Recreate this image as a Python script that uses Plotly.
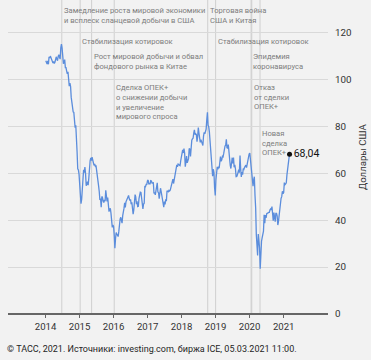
import plotly.graph_objects as go
import pandas as pd

# Brent weekly closes (USD/barrel), Fridays
brent_2014 = [107.9, 107.3, 106.5, 107.9, 106.4,
              109.6, 109.1, 109.9, 109.1,
              108.9, 108.2, 106.9, 107.6,
              106.7, 107.3, 109.5, 109.6,
              108.6, 107.9, 109.8, 110.5, 109.4,
              108.6, 113.4, 115.0, 113.3,
              110.6, 106.7, 107.2, 108.4,
              105.0, 105.0, 103.5, 102.3, 103.2,
              100.8, 97.1, 98.4, 97.0,
              92.3, 90.2, 86.2, 86.1, 85.9,
              83.4, 79.4, 80.4, 70.2,
              69.1, 61.9, 61.4, 59.5]
brent_2015 = [56.4, 50.1, 47.0, 48.8, 52.99,
              57.8, 61.5, 60.2, 62.6,
              59.7, 54.7, 55.3, 56.4,
              54.9, 57.9, 63.5, 65.3,
              66.5, 65.4, 66.8, 65.4, 65.6,
              63.3, 63.9, 63.0, 63.3,
              60.3, 58.7, 57.1, 54.6, 52.2,
              48.6, 49.2, 45.5, 50.1,
              49.6, 48.1, 47.5, 48.6,
              48.1, 52.7, 50.5, 48.0, 49.6,
              47.4, 43.6, 44.7, 45.0,
              43.0, 37.9, 36.9, 37.9]
brent_2016 = [37.3, 33.6, 28.0, 32.2, 34.7,
              34.1, 33.4, 33.0, 35.1,
              38.7, 40.4, 41.2, 40.4,
              38.7, 41.9, 43.1, 45.1, 47.4,
              45.4, 47.8, 48.7, 49.3,
              49.6, 50.5, 49.2, 48.4,
              48.9, 46.8, 47.6, 45.7, 42.5,
              44.3, 46.9, 50.9, 49.9,
              46.8, 48.0, 45.8, 45.9, 49.2,
              51.9, 51.9, 51.8, 49.7,
              45.6, 44.8, 46.9, 47.2,
              54.5, 54.3, 55.2, 55.2, 56.8]
brent_2017 = [57.1, 55.5, 55.5, 55.5,
              56.8, 56.7, 55.8, 56.0,
              55.9, 51.4, 51.8, 50.8, 52.8,
              55.2, 55.9, 52.0, 51.7,
              49.1, 50.8, 53.6, 52.2,
              49.9, 48.2, 47.4, 45.5, 47.9,
              46.7, 48.9, 48.1, 52.5,
              52.4, 52.1, 52.7, 52.4,
              52.8, 53.8, 55.6, 56.9, 57.5,
              55.6, 57.2, 57.8, 60.4,
              62.1, 63.5, 62.7, 63.9,
              63.7, 63.4, 63.2, 65.3, 66.9]
brent_2018 = [67.6, 69.9, 68.6, 70.5,
              68.6, 62.8, 64.8, 67.3,
              64.4, 65.5, 66.2, 70.5, 70.3,
              67.1, 72.6, 74.1, 74.6,
              74.9, 77.1, 78.5, 76.4,
              76.8, 76.5, 73.4, 75.6, 79.4,
              77.1, 75.3, 73.1, 74.3,
              73.2, 72.8, 71.8, 75.8, 77.4,
              76.8, 78.1, 78.8, 82.7,
              86.0, 80.4, 79.8, 77.6,
              72.8, 70.2, 66.8, 58.8, 58.7,
              61.7, 60.3, 53.8, 50.5]
brent_2019 = [57.1, 60.5, 62.7, 61.6,
              62.8, 62.1, 66.3, 67.1,
              65.1, 65.7, 67.2, 67.0, 68.4,
              70.3, 71.6, 71.9, 74.4,
              70.9, 70.6, 72.2, 68.7, 64.5,
              63.3, 62.0, 65.2, 66.6,
              64.2, 66.7, 62.5, 63.5,
              61.9, 58.5, 58.6, 59.3, 60.4,
              61.5, 60.2, 67.5, 61.9,
              58.4, 60.5, 59.4, 62.0,
              61.7, 62.5, 63.3, 63.4, 62.4,
              64.4, 65.2, 66.1, 68.2]
brent_2020 = [68.6, 65.0, 64.9, 60.7, 58.2,
              54.5, 57.3, 58.5, 50.5,
              45.3, 33.9, 27.0, 24.9,
              34.1, 31.5, 28.1, 19.3,
              26.4, 31.0, 32.5, 35.1, 35.3,
              42.3, 38.7, 42.2, 41.0,
              42.8, 43.2, 43.1, 43.3, 43.3,
              44.4, 44.8, 44.4, 45.8,
              42.7, 39.8, 43.2, 41.9,
              39.3, 42.9, 42.9, 41.8, 37.9,
              39.5, 42.8, 45.0, 48.2,
              49.3, 50.0, 52.3, 51.3]
brent_2021 = [51.8, 56.0, 55.1, 55.4, 55.9,
              59.3, 62.4, 62.9, 66.1,
              68.04]

last_label = "68,04"
year_ticks = ["2014", "2015", "2016", "2017", "2018", "2019", "2020", "2021"]
y_ticks = [0, 20, 40, 60, 80, 100, 120]

events = [
    ("2014-06-24", ["Замедление роста мировой экономики", "и всплеск сланцевой добычи в США"]),
    ("2015-01-07", ["Стабилизация котировок"]),
    ("2015-05-10", ["Рост мировой добычи и обвал", "фондового рынка в Китае"]),
    ("2016-01-08", ["Сделка ОПЕК+", "о снижении добычи", "и увеличение", "мирового спроса"]),
    ("2018-10-08", ["Торговая война", "США и Китая"]),
    ("2019-01-01", ["Стабилизация котировок"]),
    ("2020-01-17", ["Эпидемия", "коронавируса"]),
    ("2020-01-24", ["Отказ", "от сделки", "ОПЕК+"]),
    ("2020-04-22", ["Новая", "сделка", "ОПЕК+"]),
]
# layout: pixel y of first text line for each event, line spacing
event_first_px = [11, 42, 57, 88, 11, 42, 57, 87.5, 133.5]
LINE_PX = 9.6

values = brent_2014 + brent_2015 + brent_2016 + brent_2017 + brent_2018 + brent_2019 + brent_2020 + brent_2021
dates = pd.date_range("2014-01-03", periods=len(values), freq="W-FRI")

W, H = 371, 360
M_L, M_R, M_T, M_B = 8, 43, 0, 46
PLOT_H = H - M_T - M_B
PLOT_W = W - M_L - M_R
Y_MAX = 133.8

BG = "#f2f2f2"
FONT = "Roboto"

fig = go.Figure()
fig.add_trace(go.Scatter(
    x=dates, y=values, mode="lines",
    line=dict(color="#5b8ddc", width=1.3),
    hoverinfo="skip", showlegend=False,
))
fig.add_trace(go.Scatter(
    x=[dates[-1]], y=[values[-1]], mode="markers+text",
    marker=dict(color="#111111", size=5),
    text=[last_label], textposition="middle right",
    textfont=dict(family=FONT, size=10.5, color="#111111"),
    hoverinfo="skip", showlegend=False,
))

shapes = []
annotations = []
for (d, lines), py in zip(events, event_first_px):
    shapes.append(dict(type="line", xref="x", yref="paper", x0=d, x1=d, y0=0, y1=1,
                       line=dict(color="#cfcfcf", width=1), layer="below"))
    for i, t in enumerate(lines):
        p = py + i * LINE_PX
        annotations.append(dict(
            x=d, xref="x", y=1 - p / PLOT_H, yref="paper",
            text=t, showarrow=False, xanchor="left", yanchor="middle",
            xshift=0, font=dict(family=FONT, size=7.6, color="#7d7d7d"),
        ))

annotations.append(dict(
    x=(362 - M_L) / PLOT_W, xref="paper", y=1 - 157 / PLOT_H, yref="paper",
    text="Доллары США",
    showarrow=False, textangle=-90, xanchor="center", yanchor="middle",
    font=dict(family=FONT, size=9.6, color="#333333"),
))

annotations.append(dict(
    x=(5 - M_L) / PLOT_W, xref="paper",
    y=-(349 - M_T - PLOT_H) / PLOT_H, yref="paper",
    text="© ТАСС, 2021. Источники: investing.com, биржа ICE, 05.03.2021 11:00.",
    showarrow=False, xanchor="left", yanchor="middle",
    font=dict(family=FONT, size=9.0, color="#1f1f1f"),
))

fig.update_layout(
    width=W, height=H,
    margin=dict(l=M_L, r=M_R, t=M_T, b=M_B, pad=0),
    paper_bgcolor=BG, plot_bgcolor=BG,
    shapes=shapes, annotations=annotations,
    xaxis=dict(
        range=["2012-11-23", "2022-04-22"],
        tickvals=[f"{y}-01-01" for y in year_ticks], ticktext=year_ticks,
        ticks="outside", ticklen=3, tickcolor="#666666",
        showgrid=False, zeroline=False,
        showline=False,
        tickfont=dict(family=FONT, size=9.6, color="#333333"),
    ),
    yaxis=dict(
        range=[0, Y_MAX], side="right",
        tickvals=y_ticks, ticktext=[str(v) for v in y_ticks],
        showgrid=True, gridcolor="#d9d9d9", gridwidth=1,
        zeroline=True, zerolinecolor="#666666", zerolinewidth=1.2,
        ticks="", ticklabelstandoff=6,
        tickfont=dict(family=FONT, size=9.8, color="#333333"),
    ),
)

fig.write_html(
    "out.html",
    config={"displayModeBar": False, "staticPlot": True},
    post_script="document.body.style.margin='0';document.body.style.background='#f2f2f2';",
)
